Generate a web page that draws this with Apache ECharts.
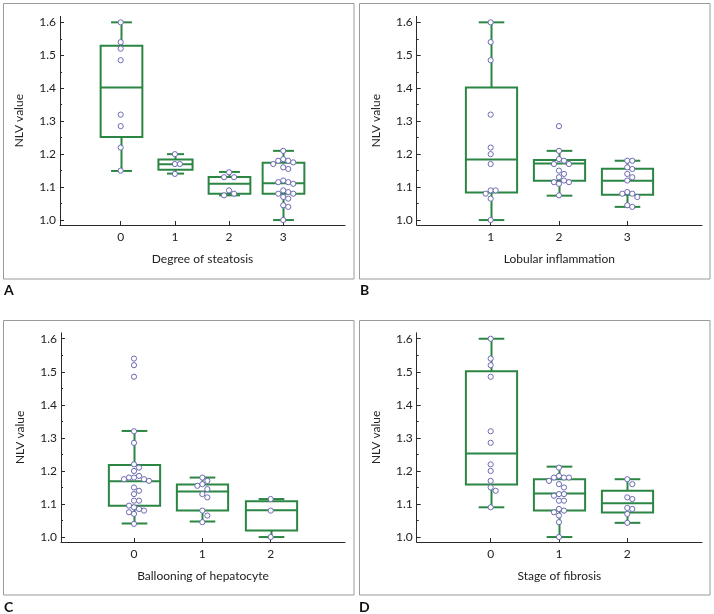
<!DOCTYPE html>
<html><head><meta charset="utf-8">
<script src="https://cdn.jsdelivr.net/npm/echarts@6/dist/echarts.min.js"></script>
<style>html,body{margin:0;padding:0;background:#fff}#c{width:714px;height:614px}</style>
</head><body><div id="c"></div>
<script>
// ---------- DATA ----------
const yTicks = [1.0, 1.1, 1.2, 1.3, 1.4, 1.5, 1.6];
const yMinorTicks = [1.05, 1.15, 1.25, 1.35, 1.45, 1.55];

// Panel A – Degree of steatosis
const catsA = [0, 1, 2, 3];
// [lower whisker, Q1, median, Q3, upper whisker]
const boxA = [
  [1.149, 1.252, 1.402, 1.529, 1.600],
  [1.141, 1.153, 1.169, 1.184, 1.200],
  [1.075, 1.080, 1.110, 1.131, 1.146],
  [1.000, 1.080, 1.112, 1.174, 1.210]
];
const ptsA = [
  [1.600, 1.540, 1.520, 1.485, 1.320, 1.285, 1.220, 1.150],
  [1.200, 1.170, 1.170, 1.140],
  [1.145, 1.130, 1.130, 1.090, 1.080, 1.075],
  [1.210, 1.185, 1.180, 1.180, 1.175, 1.170, 1.160, 1.155, 1.120, 1.115, 1.115, 1.110, 1.090, 1.085, 1.080, 1.080, 1.070, 1.065, 1.045, 1.040, 1.000]
];

// Panel B – Lobular inflammation
const catsB = [1, 2, 3];
const boxB = [
  [1.000, 1.084, 1.184, 1.402, 1.600],
  [1.074, 1.119, 1.172, 1.182, 1.210],
  [1.040, 1.077, 1.119, 1.156, 1.180]
];
const ptsB = [
  [1.600, 1.540, 1.485, 1.320, 1.220, 1.200, 1.170, 1.090, 1.090, 1.080, 1.065, 1.000],
  [1.285, 1.210, 1.185, 1.180, 1.170, 1.170, 1.150, 1.140, 1.130, 1.120, 1.115, 1.115, 1.110, 1.075],
  [1.180, 1.180, 1.160, 1.155, 1.140, 1.130, 1.120, 1.085, 1.080, 1.080, 1.070, 1.045, 1.040]
];

// Panel C – Ballooning of hepatocyte
const catsC = [0, 1, 2];
const boxC = [
  [1.041, 1.095, 1.169, 1.218, 1.321],
  [1.047, 1.080, 1.138, 1.159, 1.180],
  [1.000, 1.020, 1.081, 1.108, 1.115]
];
const ptsC = [
  [1.540, 1.520, 1.485, 1.320, 1.285, 1.220, 1.210, 1.200, 1.185, 1.180, 1.180, 1.175, 1.175, 1.170, 1.150, 1.140, 1.130, 1.110, 1.110, 1.095, 1.090, 1.085, 1.080, 1.075, 1.070, 1.040],
  [1.180, 1.170, 1.160, 1.155, 1.145, 1.130, 1.120, 1.080, 1.065, 1.045],
  [1.115, 1.080, 1.000]
];

// Panel D – Stage of fibrosis
const catsD = [0, 1, 2];
const boxD = [
  [1.090, 1.159, 1.253, 1.502, 1.600],
  [1.000, 1.080, 1.132, 1.175, 1.213],
  [1.043, 1.074, 1.102, 1.140, 1.175]
];
const ptsD = [
  [1.600, 1.540, 1.520, 1.485, 1.320, 1.285, 1.220, 1.200, 1.170, 1.150, 1.140, 1.090],
  [1.210, 1.185, 1.180, 1.180, 1.180, 1.170, 1.160, 1.150, 1.130, 1.130, 1.125, 1.110, 1.110, 1.085, 1.080, 1.075, 1.065, 1.045, 1.000],
  [1.175, 1.160, 1.120, 1.115, 1.088, 1.085, 1.070, 1.043]
];

const xNames = ['Degree of steatosis', 'Lobular inflammation', 'Ballooning of hepatocyte', 'Stage of fibrosis'];
const yName = 'NLV value';
const panelLetters = ['A', 'B', 'C', 'D'];

// ---------- STYLE / LAYOUT ----------
const FONT = "Lato, 'DejaVu Sans Condensed', sans-serif";
const FS = 12;
const GREEN = '#2b8543';
const PT = '#6c6cb4';
const AX = '#2a2a2a';
const TXT = '#222';
const Y_MIN = 0.985, Y_MAX = 1.618;

const panels = [
  {cats: catsA, box: boxA, pts: ptsA, grid: {left: 60, top: 16.4, width: 285, height: 208.6}, xMin: -1.12, xMax: 4.14, boxW: [0.77, 0.63, 0.77, 0.77]},
  {cats: catsB, box: boxB, pts: ptsB, grid: {left: 416.7, top: 16.4, width: 285.3, height: 208.6}, xMin: -0.083, xMax: 4.094, boxW: [0.75, 0.75, 0.75]},
  {cats: catsC, box: boxC, pts: ptsC, grid: {left: 61, top: 332.8, width: 284, height: 209.2}, xMin: -1.068, xMax: 3.087, boxW: [0.75, 0.75, 0.75]},
  {cats: catsD, box: boxD, pts: ptsD, grid: {left: 416.7, top: 332.8, width: 285.3, height: 209.2}, xMin: -1.083, xMax: 3.094, boxW: [0.75, 0.75, 0.75]}
];
const frames = [
  {x: 3.5, y: 3.5, w: 350.5, h: 275.5},
  {x: 359.5, y: 3.5, w: 350.5, h: 275.5},
  {x: 3.5, y: 320.5, w: 350.5, h: 274.5},
  {x: 359.5, y: 320.5, w: 350.5, h: 274.5}
];
const letterPos = [[4, 290], [360, 290], [4, 607], [359, 607]];

// simple beeswarm: horizontal pixel offsets so markers do not overlap
function swarm(vals, pxPerUnit) {
  const placed = [], out = [];
  const d = 5.0, step = 5.0;
  vals.forEach(v => {
    const y = v * pxPerUnit;
    const cands = [0];
    for (let k = 1; k < 8; k++) cands.push(k * step, -k * step);
    let off = 0;
    for (const c of cands) {
      if (placed.every(p => Math.hypot(p[0] - c, p[1] - y) >= d)) { off = c; break; }
    }
    placed.push([off, y]);
    out.push(off);
  });
  return out;
}

const grids = [], xAxes = [], yAxes = [], series = [], graphics = [];
panels.forEach((p, i) => {
  grids.push(Object.assign({containLabel: false}, p.grid));
  xAxes.push({
    gridIndex: i, type: 'value', min: p.xMin, max: p.xMax,
    axisLine: {show: true, onZero: false, lineStyle: {color: AX, width: 1}},
    axisTick: {show: true, inside: true, length: 4, customValues: p.cats, lineStyle: {color: AX}},
    axisLabel: {show: true, customValues: p.cats, margin: 6, fontSize: FS, color: TXT, fontFamily: FONT},
    splitLine: {show: false},
    name: xNames[i], nameLocation: 'middle', nameGap: 28,
    nameTextStyle: {fontSize: FS, color: TXT, fontFamily: FONT}
  });
  yAxes.push({
    gridIndex: i, type: 'value', min: Y_MIN, max: Y_MAX, position: 'left',
    axisLine: {show: true, onZero: false, lineStyle: {color: AX, width: 1}},
    axisTick: {show: true, inside: true, length: 4, customValues: yTicks, lineStyle: {color: AX}},
    axisLabel: {show: true, customValues: yTicks, margin: 4, fontSize: FS, color: TXT, fontFamily: FONT, formatter: v => v.toFixed(1)},
    splitLine: {show: false},
    name: yName, nameLocation: 'middle', nameGap: 35, nameRotate: 90,
    nameTextStyle: {fontSize: FS, color: TXT, fontFamily: FONT}
  });
  yAxes.push({
    gridIndex: i, type: 'value', min: Y_MIN, max: Y_MAX, position: 'left', offset: 0,
    axisLine: {show: false, onZero: false},
    axisTick: {show: true, inside: true, length: 2, customValues: yMinorTicks, lineStyle: {color: AX}},
    axisLabel: {show: false}, splitLine: {show: false}
  });
  const yIdx = i * 2;
  const bw = p.boxW;
  series.push({
    type: 'custom', xAxisIndex: i, yAxisIndex: yIdx, silent: true,
    data: p.cats.map((c, k) => [c].concat(p.box[k]).concat([bw[k]])),
    encode: {x: 0, y: [1, 2, 3, 4, 5]},
    renderItem: function (params, api) {
      const x = api.value(0);
      const lo = api.coord([x, api.value(1)]);
      const q1 = api.coord([x, api.value(2)]);
      const md = api.coord([x, api.value(3)]);
      const q3 = api.coord([x, api.value(4)]);
      const hi = api.coord([x, api.value(5)]);
      const w = api.size([api.value(6), 0])[0];
      const cx = Math.round(lo[0]) + 0.5;
      const st = {stroke: GREEN, lineWidth: 2, fill: null};
      return {type: 'group', children: [
        {type: 'line', shape: {x1: cx, y1: hi[1], x2: cx, y2: q3[1]}, style: st},
        {type: 'line', shape: {x1: cx, y1: q1[1], x2: cx, y2: lo[1]}, style: st},
        {type: 'line', shape: {x1: cx - w / 4, y1: hi[1], x2: cx + w / 4, y2: hi[1]}, style: st},
        {type: 'line', shape: {x1: cx - w / 4, y1: lo[1], x2: cx + w / 4, y2: lo[1]}, style: st},
        {type: 'rect', shape: {x: cx - w / 2, y: q3[1], width: w, height: q1[1] - q3[1]}, style: st},
        {type: 'line', shape: {x1: cx - w / 2, y1: md[1], x2: cx + w / 2, y2: md[1]}, style: st}
      ]};
    }
  });
  const pxPerUnit = p.grid.height / (Y_MAX - Y_MIN);
  const ptData = [];
  p.cats.forEach((c, k) => {
    const offs = swarm(p.pts[k], pxPerUnit);
    p.pts[k].forEach((v, j) => ptData.push([c, v, offs[j]]));
  });
  series.push({
    type: 'custom', xAxisIndex: i, yAxisIndex: yIdx, silent: true, z: 5,
    data: ptData, encode: {x: 0, y: 1},
    renderItem: function (params, api) {
      const pt = api.coord([api.value(0), api.value(1)]);
      return {type: 'circle', shape: {cx: pt[0] + api.value(2), cy: pt[1], r: 2.6},
        style: {fill: '#fff', stroke: PT, lineWidth: 1}};
    }
  });
  const f = frames[i];
  graphics.push({type: 'rect', shape: {x: f.x, y: f.y, width: f.w, height: f.h},
    style: {fill: null, stroke: '#9a9a9a', lineWidth: 1}, silent: true, z: -1});
  graphics.push({type: 'text', x: letterPos[i][0], y: letterPos[i][1],
    style: {text: panelLetters[i], fontSize: 14, fontWeight: 'bold', fill: '#111', fontFamily: FONT, verticalAlign: 'middle', align: 'left'}});
});

const chart = echarts.init(document.getElementById('c'), null, {renderer: 'canvas'});
chart.setOption({
  animation: false,
  backgroundColor: '#fff',
  grid: grids, xAxis: xAxes, yAxis: yAxes, series: series,
  graphic: graphics
});
</script>
</body></html>
